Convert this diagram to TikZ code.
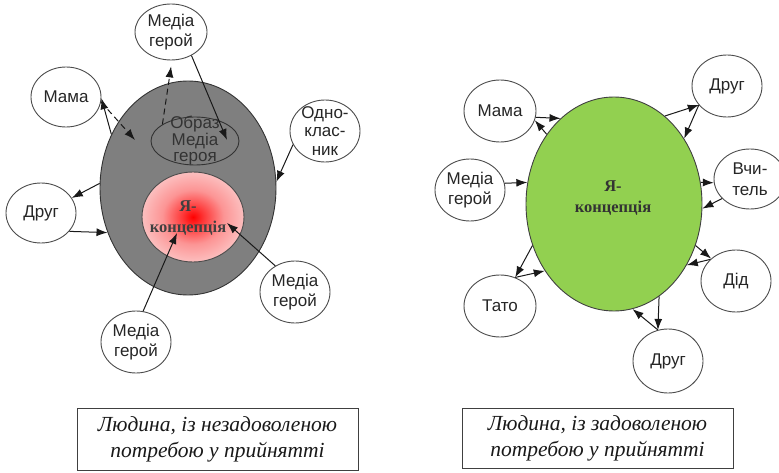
\documentclass[tikz,border=0pt]{standalone}
\usepackage{fontspec}
\setmainfont{Liberation Serif}
\newfontfamily\labfont{Liberation Sans}
\usetikzlibrary{shapes.geometric,arrows.meta}
\definecolor{grayE}{RGB}{127,127,127}
\definecolor{greenE}{RGB}{146,208,80}
\definecolor{pinkE}{RGB}{251,212,212}
\definecolor{lineC}{RGB}{25,25,25}
\pgfdeclareradialshading{redglow}{\pgfpoint{0bp}{0bp}}{color(0bp)=(red); color(5bp)=(red!75!pinkE); color(15bp)=(red!30!pinkE); color(30bp)=(pinkE); color(50bp)=(pinkE)}
\begin{document}
\begin{tikzpicture}[x=1pt,y=-1pt,
  person/.style={ellipse, draw=black!70, fill=white, line width=0.9pt, align=center, inner sep=-2pt,
    font=\labfont\fontsize{17}{20.5}\selectfont, text=black!85},
  conn/.style={line width=1pt, draw=lineC, -{Latex[length=11pt,width=8pt]}},
  dconn/.style={conn, dash pattern=on 6pt off 4pt},
  capbox/.style={draw=black!75, line width=0.9pt, fill=white, align=center, inner sep=0pt,
    font=\itshape\fontsize{21.5}{26}\selectfont, text=black!90},
  selfc/.style={font=\bfseries\fontsize{16.5}{21}\selectfont, align=center, text=black!80}]
\useasboundingbox (0,0) rectangle (779,473);
\clip (0,0) rectangle (779,473);

% ---------------- left figure ----------------
\node[ellipse, draw=black!80, fill=grayE, line width=0.9pt, minimum width=176pt, minimum height=214pt] (G) at (188,188) {};
\node[ellipse, draw=black!80, line width=0.9pt, minimum width=88pt, minimum height=48pt, inner sep=-16pt,
  align=center, font=\labfont\fontsize{17}{16.5}\selectfont, text=black!80] (O) at (195,141) {Образ\\Медіа\\героя};
\node[ellipse, draw=black!70, line width=0.9pt, shading=redglow, minimum width=102pt, minimum height=90pt, inner sep=0pt] (R) at (193,217) {};
\node[selfc, text=black!75] (Rt) at (188,218) {Я-\\концепція};

\node[person, minimum width=72pt, minimum height=56pt] (MH1) at (171,32) {Медіа\\герой};
\node[person, minimum width=70pt, minimum height=60pt] (Mama1) at (66,97) {Мама};
\node[person, minimum width=70pt, minimum height=62pt, inner sep=-9pt, font=\labfont\fontsize{17}{18.5}\selectfont] (Odno) at (325,131) {Одно-\\клас-\\ник};
\node[person, minimum width=70pt, minimum height=60pt] (Drug1) at (41,213) {Друг};
\node[person, minimum width=70pt, minimum height=62pt] (MH2) at (295,292) {Медіа\\герой};
\node[person, minimum width=70pt, minimum height=62pt] (MH3) at (136,342) {Медіа\\герой};

\coordinate (oIn) at (227,140);
\coordinate (gIn) at (135,140);
\coordinate (r1) at (177,233);
\coordinate (r2) at (227,223);

\draw[conn] (MH1.-49) -- (oIn);
\draw[dconn, shorten >=6pt] (O.153) -- (MH1.-88);
\draw[conn] (G.145) -- (Mama1.-2);
\draw[dconn] (Mama1.-8) -- (gIn);
\draw[conn] (Odno.203) -- (G.4);
\draw[conn] (G.177) -- (Drug1.26);
\draw[conn] (Drug1.-33) -- (G.209);
\draw[conn] (MH3.77) -- (r1);
\draw[conn] (MH2.127) -- (r2);

\node[capbox, minimum width=281pt, minimum height=62pt] (Cap1) at (217.5,439) {Людина, із незадоволеною\\потребою у прийнятті};

% ---------------- right figure ----------------
\node[ellipse, draw=black!75, fill=greenE, line width=0.9pt, minimum width=176pt, minimum height=214pt] (Gr) at (614,204) {};
\node[selfc] (Grt) at (613,198) {Я-\\концепція};

\node[person, minimum width=72pt, minimum height=62pt] (Mama2) at (500,111) {Мама};
\node[person, minimum width=70pt, minimum height=62pt] (Drug2) at (727,86) {Друг};
\node[person, minimum width=70pt, minimum height=62pt] (MH4) at (470,190) {Медіа\\герой};
\node[person, minimum width=72pt, minimum height=60pt] (Vch) at (750,179) {Вчи-\\тель};
\node[person, minimum width=70pt, minimum height=62pt] (Did) at (736,281) {Дід};
\node[person, minimum width=72pt, minimum height=62pt] (Tato) at (500,306) {Тато};
\node[person, minimum width=70pt, minimum height=64pt] (Drug3) at (668,361) {Друг};

\draw[conn] (Mama2.-10) -- (Gr.122);
\draw[conn] (Gr.134) -- (Mama2.-15);
\draw[conn] (Gr.60) -- (Drug2.214);
\draw[conn] (Drug2.214) -- (Gr.43);
\draw[conn] (MH4.11) -- (Gr.166);
\draw[conn] (Gr.14) -- (Vch.186);
\draw[conn] (Vch.215) -- (Gr.-3);
\draw[conn] (Gr.-27) -- (Did.138);
\draw[conn] (Did.140) -- (Gr.-40);
\draw[conn] (Gr.207) -- (Tato.62);
\draw[conn] (Tato.62) -- (Gr.224);
\draw[conn] (Gr.-64) -- (Drug3.108);
\draw[conn] (Drug3.108) -- (Gr.-80);

\node[capbox, minimum width=271pt, minimum height=60pt] (Cap2) at (597.5,438) {Людина, із задоволеною\\потребою у прийнятті};
\end{tikzpicture}
\end{document}
